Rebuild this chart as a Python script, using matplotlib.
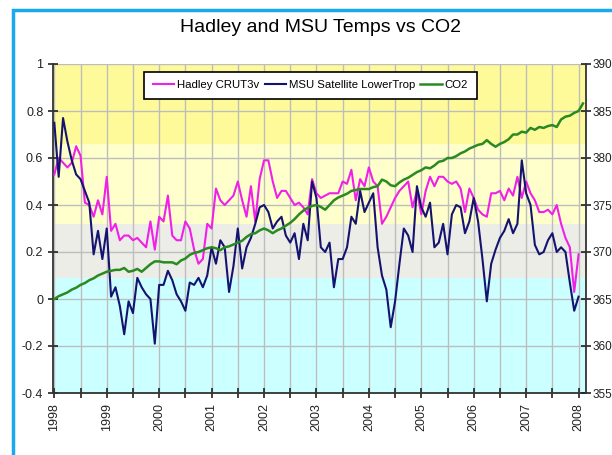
import numpy as np
import matplotlib
matplotlib.use("Agg")
import matplotlib.pyplot as plt
from matplotlib.patches import Rectangle

plt.rcParams['font.family'] = ['Liberation Sans', 'DejaVu Sans']

# monthly values, Jan 1998 .. Jan 2008
hadley = [0.53, 0.60, 0.58, 0.56, 0.58, 0.65, 0.61, 0.41, 0.40, 0.35, 0.42, 0.36,
          0.52, 0.29, 0.32, 0.25, 0.27, 0.27, 0.25, 0.26, 0.24, 0.22, 0.33, 0.21,
          0.35, 0.33, 0.44, 0.27, 0.25, 0.25, 0.33, 0.30, 0.21, 0.15, 0.17, 0.32,
          0.30, 0.47, 0.42, 0.40, 0.42, 0.44, 0.50, 0.42, 0.35, 0.48, 0.33, 0.51,
          0.59, 0.59, 0.50, 0.43, 0.46, 0.46, 0.43, 0.40, 0.41, 0.39, 0.36, 0.51,
          0.45, 0.43, 0.44, 0.45, 0.45, 0.45, 0.50, 0.49, 0.55, 0.42, 0.51, 0.48,
          0.56, 0.50, 0.48, 0.32, 0.35, 0.39, 0.43, 0.46, 0.48, 0.50, 0.39, 0.46,
          0.36, 0.46, 0.52, 0.48, 0.52, 0.52, 0.50, 0.49, 0.50, 0.47, 0.37, 0.47,
          0.43, 0.38, 0.36, 0.35, 0.45, 0.45, 0.46, 0.42, 0.47, 0.44, 0.52, 0.43,
          0.50, 0.45, 0.42, 0.37, 0.37, 0.38, 0.36, 0.40, 0.32, 0.26, 0.22, 0.03,
          0.19]

msu = [0.75, 0.52, 0.77, 0.67, 0.59, 0.53, 0.51, 0.46, 0.41, 0.19, 0.29, 0.17,
       0.30, 0.01, 0.05, -0.03, -0.15, -0.01, -0.06, 0.09, 0.05, 0.02, 0.00, -0.19,
       0.06, 0.06, 0.12, 0.08, 0.02, -0.01, -0.05, 0.07, 0.06, 0.09, 0.05, 0.10,
       0.22, 0.15, 0.25, 0.22, 0.03, 0.14, 0.30, 0.13, 0.22, 0.26, 0.32, 0.39,
       0.40, 0.37, 0.30, 0.33, 0.35, 0.27, 0.24, 0.28, 0.17, 0.32, 0.25, 0.50,
       0.43, 0.22, 0.20, 0.24, 0.05, 0.17, 0.17, 0.22, 0.35, 0.32, 0.46, 0.37,
       0.41, 0.45, 0.22, 0.10, 0.04, -0.12, -0.01, 0.15, 0.30, 0.27, 0.20, 0.48,
       0.39, 0.35, 0.41, 0.22, 0.24, 0.32, 0.19, 0.36, 0.40, 0.39, 0.28, 0.33,
       0.43, 0.33, 0.17, -0.01, 0.15, 0.21, 0.26, 0.29, 0.34, 0.28, 0.32, 0.59,
       0.45, 0.40, 0.23, 0.19, 0.20, 0.25, 0.28, 0.20, 0.22, 0.20, 0.07, -0.05,
       0.01]

co2 = [365.0, 365.3, 365.5, 365.7, 366.0, 366.2, 366.5, 366.7, 367.0, 367.2, 367.5, 367.7,
       367.9, 368.0, 368.1, 368.1, 368.3, 367.9, 368.0, 368.2, 367.9, 368.3, 368.7, 369.0,
       369.0, 368.9, 368.9, 368.9, 368.7, 369.1, 369.3, 369.7, 369.9, 370.0, 370.2, 370.4,
       370.5, 370.4, 370.2, 370.5, 370.6, 370.8, 371.0, 371.2, 371.6, 371.9, 372.0, 372.3,
       372.5, 372.3, 372.0, 372.3, 372.5, 372.8, 373.1, 373.5, 374.0, 374.4, 374.7, 374.9,
       375.0, 374.8, 374.5, 375.0, 375.5, 375.8, 376.0, 376.2, 376.5, 376.6, 376.7, 376.7,
       376.7, 376.9, 377.0, 377.7, 377.5, 377.1, 377.0, 377.4, 377.7, 377.9, 378.2, 378.5,
       378.7, 379.0, 378.9, 379.2, 379.6, 379.7, 380.0, 380.0, 380.2, 380.5, 380.7, 381.0,
       381.2, 381.4, 381.5, 381.9, 381.5, 381.2, 381.5, 381.7, 382.0, 382.5, 382.5, 382.8,
       382.7, 383.2, 383.0, 383.3, 383.2, 383.4, 383.5, 383.3, 384.1, 384.4, 384.5, 384.8,
       385.0, 385.8]

years = [str(y) for y in range(1998, 2009)]

fig = plt.figure(figsize=(6.12, 4.55), dpi=100)
fig.patch.set_facecolor('white')
ax = fig.add_axes([53/612, 1-393/455, 533/612, 329/455])

# background bands
ax.axhspan(0.66, 1.0, color='#FFFA99', lw=0, zorder=0)
ax.axhspan(0.32, 0.66, color='#FFFFCC', lw=0, zorder=0)
ax.axhspan(0.09, 0.32, color='#EDEDE8', lw=0, zorder=0)
ax.axhspan(-0.4, 0.09, color='#CCFFFF', lw=0, zorder=0)

ax.plot(np.arange(len(hadley)), hadley, color='#F020E8', lw=1.5, label='Hadley CRUT3v', zorder=3)
ax.plot(np.arange(len(msu)), msu, color='#141470', lw=1.5, label='MSU Satellite LowerTrop', zorder=4)

ax.set_xlim(-0.3, 121.7)
ax.set_ylim(-0.4, 1.0)
ax.set_yticks(np.arange(-0.4, 1.01, 0.2))
ax.set_yticklabels(['-0.4', '-0.2', '0', '0.2', '0.4', '0.6', '0.8', '1'])
ax.set_xticks(range(0, 121, 6))
ax.set_xticklabels([years[i // 12] if i % 12 == 0 else '' for i in range(0, 121, 6)], rotation=90)
ax.grid(True, color='#BDBDBD', lw=1)
ax.set_axisbelow(True)
ax.tick_params(direction='inout', length=7, width=1.2, labelsize=9, colors='#222222')
ax.tick_params(axis='x', pad=4)
for s in ['top', 'right']:
    ax.spines[s].set_visible(False)
for s in ['left', 'bottom']:
    ax.spines[s].set_color('#333333')
    ax.spines[s].set_linewidth(1.3)

ax2 = ax.twinx()
ax2.plot(np.arange(len(co2)), co2, color='#2A8A22', lw=1.8, label='CO2', zorder=5)
ax2.set_ylim(355, 390)
ax2.set_yticks(range(355, 391, 5))
ax2.tick_params(direction='inout', length=7, width=1.2, labelsize=8.5, pad=1.5, colors='#222222')
for s in ['top', 'left', 'bottom']:
    ax2.spines[s].set_visible(False)
ax2.spines['right'].set_color('#333333')
ax2.spines['right'].set_linewidth(1.3)

h1, l1 = ax.get_legend_handles_labels()
h2, l2 = ax2.get_legend_handles_labels()
leg = ax2.legend(h1 + h2, l1 + l2, ncol=3, loc='upper center', bbox_to_anchor=(0.483, 0.977),
                 fontsize=8.2, frameon=True, fancybox=False, framealpha=1, edgecolor='black',
                 handlelength=1.9, handletextpad=0.25, columnspacing=0.45, borderpad=0.75,
                 borderaxespad=0)
leg.get_frame().set_linewidth(1.2)

fig.text(0.524, 1-28/455, 'Hadley and MSU Temps vs CO2', ha='center', va='center', fontsize=14)

# blue frame around the chart
fig.patches.append(Rectangle((13/612, -0.05), 1.2, 1.05 - 10/455, transform=fig.transFigure,
                             fill=False, edgecolor='#1AA8EE', lw=2.5))

fig.savefig('out.png', dpi=100)
